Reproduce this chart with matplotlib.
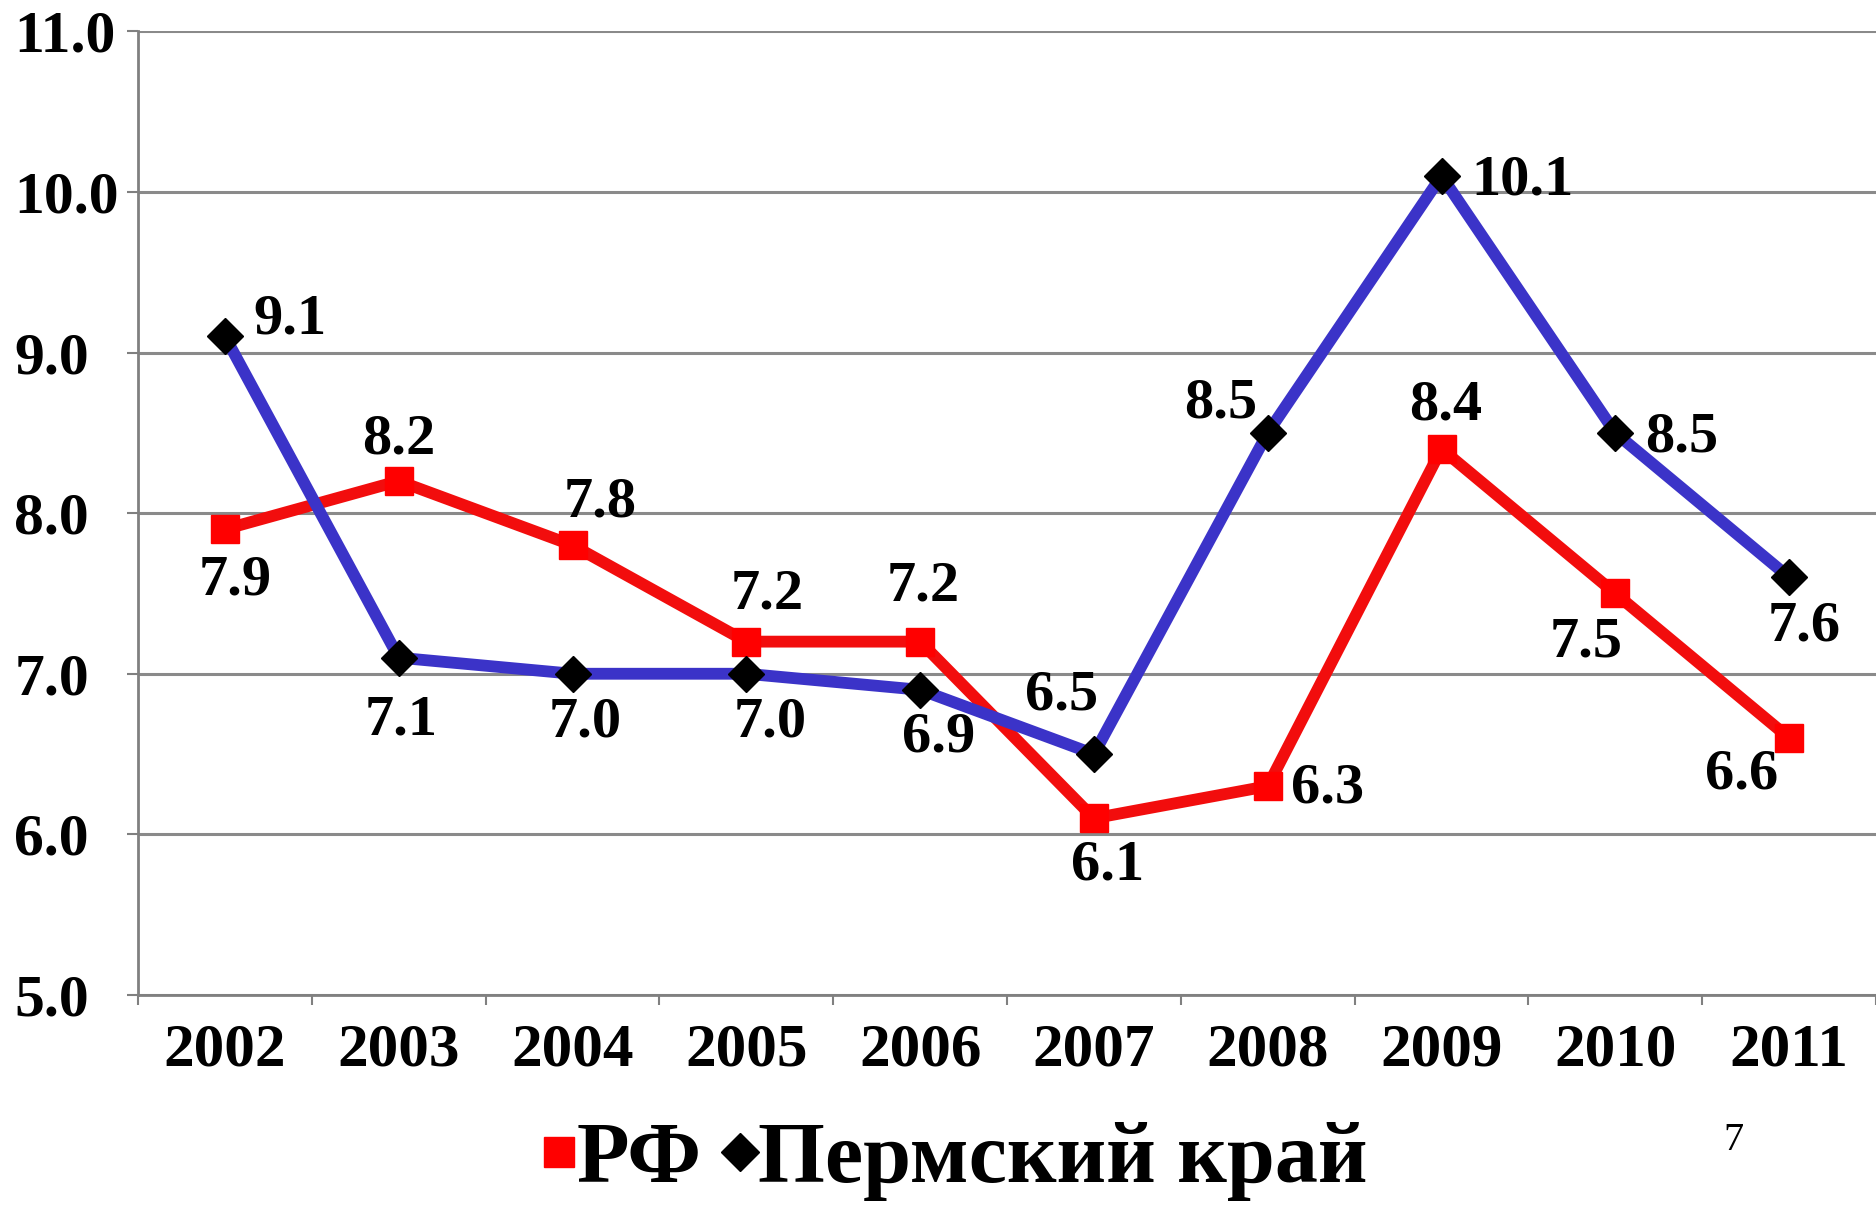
import numpy as np
import matplotlib.pyplot as plt

# Data
years = ['2002', '2003', '2004', '2005', '2006', '2007', '2008', '2009', '2010', '2011']
rf = [7.9, 8.2, 7.8, 7.2, 7.2, 6.1, 6.3, 8.4, 7.5, 6.6]
perm = [9.1, 7.1, 7.0, 7.0, 6.9, 6.5, 8.5, 10.1, 8.5, 7.6]

# label offsets (points) for each value label
rf_off = [(7, -37), (0, 30), (20, 31), (15, 34), (2, 40), (10, -34), (43, -2), (3, 31), (-21, -35), (-34, -26)]
perm_off = [(47, 12), (2, -45), (9, -35), (17, -35), (13, -34), (-23, 42), (-34, 21), (58, -3), (48, -3), (11, -35)]

FONT = 'Liberation Serif'

fig = plt.figure(figsize=(18.76, 12.06), dpi=100)
ax = fig.add_axes([0.0736, 0.175, 0.9264, 0.799])

x = np.arange(len(years))
ax.plot(x, rf, color='#f20d0d', lw=8.5, marker='s', ms=20, mfc='#ff0000', mec='#ff0000',
        zorder=3, label='РФ')
ax.plot(x, perm, color='#3b33c8', lw=8.5, marker='D', ms=18, mfc='black', mec='black',
        zorder=4, label='Пермский край')

for xi, v, off in zip(x, rf, rf_off):
    ax.annotate(f'{v:.1f}', (xi, v), xytext=off, textcoords='offset points', ha='center',
                va='center', fontsize=42, fontweight='bold', family=FONT, zorder=5)
for xi, v, off in zip(x, perm, perm_off):
    ax.annotate(f'{v:.1f}', (xi, v), xytext=off, textcoords='offset points', ha='center',
                va='center', fontsize=42, fontweight='bold', family=FONT, zorder=5)

ax.set_xlim(-0.5, len(years) - 0.5)
ax.set_ylim(5, 11)
yt = np.arange(5, 11.1, 1.0)
ax.set_yticks(yt)
ax.set_yticklabels([f'{t:.1f}' for t in yt], fontsize=43, fontweight='bold', family=FONT,
                   ha='left', va='center_baseline')
ax.set_xticks(x)
ax.set_xticklabels(years, fontsize=44, fontweight='bold', family=FONT)
ax.set_xticks(np.arange(-0.5, len(years)), minor=True)
ax.tick_params(axis='x', which='major', length=0, pad=20)
ax.tick_params(axis='x', which='minor', length=7, width=1.5, color='#808080', direction='out')
ax.tick_params(axis='y', length=8, width=1.5, color='#808080', pad=81)

ax.grid(axis='y', color='#8a8a8a', lw=2.2, zorder=0)
for s in ['top', 'right']:
    ax.spines[s].set_visible(False)
for s in ['left', 'bottom']:
    ax.spines[s].set_color('#808080')
    ax.spines[s].set_linewidth(2)

leg = fig.legend(loc='center', bbox_to_anchor=(0.51, 0.037), ncol=2, frameon=False,
                 prop={'size': 62, 'weight': 'bold', 'family': FONT}, handlelength=0.3,
                 handletextpad=0.05, columnspacing=0.3, markerscale=1.1)
for h in leg.legend_handles:
    h.set_linestyle('none')

fig.text(0.924, 0.054, '7', fontsize=29, ha='center', va='center', family=FONT)

fig.savefig('out.png', dpi=100)
